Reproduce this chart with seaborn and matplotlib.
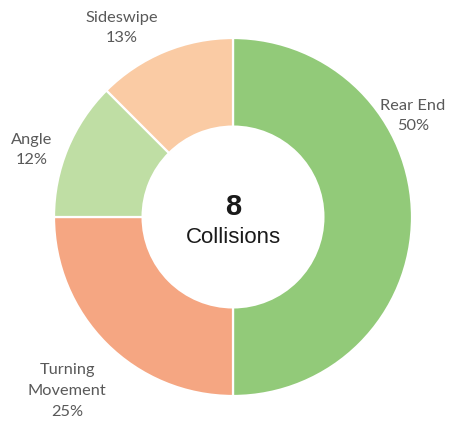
import matplotlib
matplotlib.use("Agg")
import matplotlib.pyplot as plt
import seaborn as sns

# Collision counts by type
categories = ["Rear End", "Turning Movement", "Angle", "Sideswipe"]
counts = [4, 2, 1, 1]
pct_labels = ["50%", "25%", "12%", "13%"]
total_label = "8"
total_caption = "Collisions"

sns.set_style("white")
colors = ["#92CA79", "#F5A682", "#BFDEA4", "#FACBA4"]

W, H = 451, 423
fig = plt.figure(figsize=(W / 100, H / 100), dpi=100)
ax = fig.add_axes([0, 0, 1, 1])

cx, cy, r = 233, H - 217, 179
ax.pie(counts, colors=colors, startangle=90, counterclock=False,
       center=(cx, cy), radius=r, frame=True,
       wedgeprops=dict(width=r * 0.495, edgecolor="white", linewidth=1.6))
ax.set_xlim(0, W)
ax.set_ylim(0, H)
ax.set_aspect("equal")
ax.axis("off")

# outside labels (pixel layout, y measured from top)
label_pos = {"Rear End": (413, 116), "Turning Movement": (67, 391),
             "Angle": (32, 150), "Sideswipe": (122, 28)}
label_text = {"Turning Movement": "Turning\nMovement"}
for cat, pct in zip(categories, pct_labels):
    x, y = label_pos[cat]
    ax.text(x, H - y, f"{label_text.get(cat, cat)}\n{pct}", ha="center", va="center",
            fontsize=11.8, color="#595959", family="Lato", linespacing=1.62)

ax.text(cx, H - 207, total_label, ha="center", va="center", fontsize=21,
        fontweight="bold", color="#1a1a1a", family="Liberation Sans")
ax.text(cx, H - 237, total_caption, ha="center", va="center", fontsize=16,
        color="#1a1a1a", family="Liberation Sans")

fig.savefig("out.png", dpi=100)
